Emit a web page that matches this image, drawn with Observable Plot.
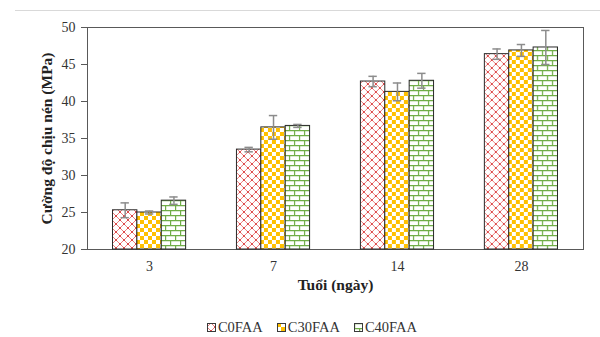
<!DOCTYPE html>
<html>
<head>
<meta charset="utf-8">
<script src="https://cdn.jsdelivr.net/npm/d3@7"></script>
<script src="https://cdn.jsdelivr.net/npm/@observablehq/plot@0.6"></script>
<style>
  html, body { margin: 0; padding: 0; background: #fff; }
  #wrap { position: relative; width: 600px; height: 337px; overflow: hidden; font-family: "Liberation Serif", serif; }
  #topline { position: absolute; left: 15px; right: 0; top: 10px; border-top: 1px solid #d9d9d9; }
  #chart { position: absolute; left: 0; top: 0; }
  #legend { position: absolute; left: 12px; width: 600px; top: 319px; display: flex; justify-content: center; gap: 14px; font-size: 14.5px; color: #333; }
  .item { display: flex; align-items: center; gap: 2px; }
  #chart text { font-family: "Liberation Serif", serif; }
</style>
</head>
<body>
<div id="wrap">
  <div id="topline"></div>
  <div id="chart"></div>
  <div id="legend"></div>
</div>
<script>
const days = ["3", "7", "14", "28"];
const series = ["C0FAA", "C30FAA", "C40FAA"];
const c0 = [25.3, 33.5, 42.7, 46.4];
const c30 = [25.0, 36.5, 41.3, 46.9];
const c40 = [26.6, 36.7, 42.8, 47.3];
const c0Err = [1.0, 0.3, 0.7, 0.7];
const c30Err = [0.2, 1.6, 1.2, 0.8];
const c40Err = [0.5, 0.2, 1.0, 2.3];
const yTicks = [20, 25, 30, 35, 40, 45, 50];
const yBase = 20;
const xTitle = "Tuổi (ngày)";
const yTitle = "Cường độ chịu nén (MPa)";
const patternIds = ["pat-c0", "pat-c30", "pat-c40"];

const values = [c0, c30, c40];
const errs = [c0Err, c30Err, c40Err];
const data = [];
days.forEach((d, i) => series.forEach((s, j) => {
  data.push({day: d, series: s, value: values[j][i], err: errs[j][i]});
}));

// layout: plot box spans x 87..583; groups sit with a half-gap at each end
const boxLeft = 87, boxRight = 17, halfGap = 25.5;

const chart = Plot.plot({
  width: 600,
  height: 300,
  marginTop: 27,
  marginBottom: 51,
  marginLeft: boxLeft + halfGap,
  marginRight: boxRight + halfGap,
  style: {fontFamily: "Liberation Serif", fontSize: "14px", color: "#333", background: "transparent"},
  fx: {domain: days, paddingInner: 0.41, paddingOuter: 0, round: false, label: null},
  x: {domain: series, padding: 0, axis: null, round: false},
  y: {domain: [20, 50]},
  color: {domain: series, range: patternIds.map(id => `url(#${id})`)},
  marks: [
    Plot.frame({stroke: "#595959", strokeWidth: 1, facet: "super", insetLeft: -halfGap, insetRight: -halfGap}),
    Plot.axisY({ticks: yTicks, tickSize: 6, tickPadding: 6, label: null, stroke: "#595959", dx: -halfGap}),
    Plot.axisFx({anchor: "bottom", tickSize: 0, tickPadding: 12, label: null}),
    Plot.barY(data, {fx: "day", x: "series", y1: yBase, y2: "value", fill: "series", stroke: "#2a2a2a", strokeWidth: 1}),
    Plot.ruleX(data, {fx: "day", x: "series", y1: d => d.value - d.err, y2: d => d.value + d.err, stroke: "#8c8c8c", strokeWidth: 1.5}),
    Plot.tickY(data, {fx: "day", x: "series", y: d => d.value + d.err, stroke: "#8c8c8c", strokeWidth: 1.5, insetLeft: 8, insetRight: 8}),
    Plot.tickY(data, {fx: "day", x: "series", y: d => d.value - d.err, stroke: "#8c8c8c", strokeWidth: 1.5, insetLeft: 8, insetRight: 8}),
    Plot.text([yTitle], {frameAnchor: "left", rotate: -90, textAnchor: "middle", dx: -40 - halfGap, fontWeight: "bold", fontSize: 15.5, fill: "#222", facet: "super"}),
    Plot.text([xTitle], {frameAnchor: "bottom", textAnchor: "middle", dy: 40, fontWeight: "bold", fontSize: 15.5, fill: "#222", facet: "super"})
  ]
});

// Pattern definitions
const ns = "http://www.w3.org/2000/svg";
const defs = document.createElementNS(ns, "defs");
defs.innerHTML = `
  <pattern id="pat-c0" patternUnits="userSpaceOnUse" width="8" height="8">
    <rect width="8" height="8" fill="#fff"/>
    <path d="M0,4 L4,0 L8,4 L4,8 Z" fill="none" stroke="#e56060" stroke-width="0.8"/>
    <rect x="3.35" y="-0.65" width="1.3" height="1.3" fill="#cc0000"/>
    <rect x="3.35" y="7.35" width="1.3" height="1.3" fill="#cc0000"/>
    <rect x="-0.65" y="3.35" width="1.3" height="1.3" fill="#cc0000"/>
    <rect x="7.35" y="3.35" width="1.3" height="1.3" fill="#cc0000"/>
  </pattern>
  <pattern id="pat-c30" patternUnits="userSpaceOnUse" width="8" height="8">
    <rect width="8" height="8" fill="#fff"/>
    <rect x="0" y="0" width="4" height="4" fill="#ffc000"/>
    <rect x="4" y="4" width="4" height="4" fill="#ffc000"/>
  </pattern>
  <pattern id="pat-c40" patternUnits="userSpaceOnUse" width="10" height="10">
    <rect width="10" height="10" fill="#fff"/>
    <path d="M0,0.6 H10 M0,5.6 H10 M0.6,0 V5 M5.6,5 V10" fill="none" stroke="#70ad47" stroke-width="1.2"/>
  </pattern>`;
chart.insertBefore(defs, chart.firstChild);
document.getElementById("chart").appendChild(chart);

// Legend
const legend = document.getElementById("legend");
series.forEach((s, j) => {
  const item = document.createElement("div");
  item.className = "item";
  item.innerHTML = `<svg width="9" height="9"><rect x="0.5" y="0.5" width="8" height="8" fill="url(#${patternIds[j]})" stroke="#3a3a3a" stroke-width="1"/></svg><span>${s}</span>`;
  legend.appendChild(item);
});
</script>
</body>
</html>
